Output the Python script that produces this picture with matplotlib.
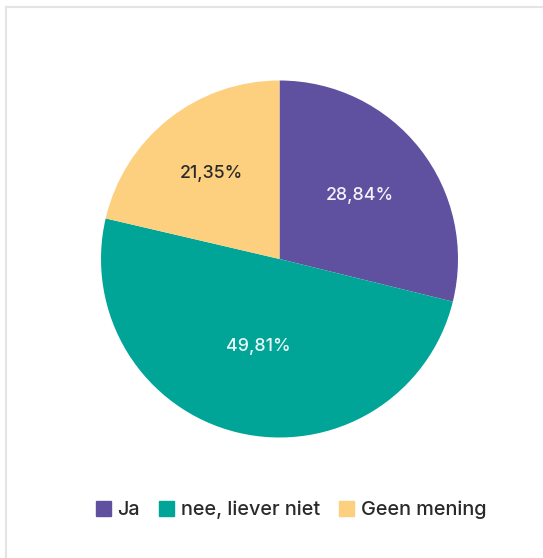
import matplotlib
matplotlib.use("Agg")
import matplotlib.pyplot as plt
from matplotlib.lines import Line2D
import numpy as np

categories = ["Ja", "nee, liever niet", "Geen mening"]
values = [28.84, 49.81, 21.35]
value_labels = ["28,84%", "49,81%", "21,35%"]
colors = ["#5F51A0", "#00A597", "#FCD07F"]
text_colors = ["#F4F2FA", "#EAF7F5", "#2A2A2A"]
label_dist = [0.575, 0.505, 0.61]

plt.rcParams["font.family"] = ["Inter", "DejaVu Sans"]

W, H = 543, 558
fig = plt.figure(figsize=(W / 100, H / 100), dpi=100)
fig.patch.set_facecolor("white")

# faint frame along the top and left edges
fig.add_artist(Line2D([6 / W, 6 / W], [0, 1 - 7 / H], transform=fig.transFigure,
                      color="#E4E4E4", lw=1.5))
fig.add_artist(Line2D([6 / W, 1], [1 - 7 / H, 1 - 7 / H], transform=fig.transFigure,
                      color="#E4E4E4", lw=1.5))

cx, cy, r = 279.5, 259, 178.5
ax = fig.add_axes([(cx - r) / W, (H - cy - r) / H, 2 * r / W, 2 * r / H])
wedges, _ = ax.pie(values, colors=colors, startangle=90, counterclock=False,
                   radius=1.0, wedgeprops=dict(linewidth=0))
ax.set_xlim(-1, 1)
ax.set_ylim(-1, 1)
ax.set_aspect("equal")
ax.axis("off")

for w, lab, tc, d in zip(wedges, value_labels, text_colors, label_dist):
    ang = np.deg2rad((w.theta1 + w.theta2) / 2)
    ax.text(d * np.cos(ang), d * np.sin(ang), lab, ha="center", va="center",
            fontsize=12.8, color=tc, fontweight="medium")

handles = [plt.Rectangle((0, 0), 1, 1, color=c) for c in colors]
fig.legend(handles, categories, loc="center", bbox_to_anchor=(291 / W, 1 - 510 / H),
           ncol=3, frameon=False, handlelength=0.75, handleheight=0.75,
           handletextpad=0.35, columnspacing=0.95, labelcolor="#2A2A2A",
           prop=dict(size=14.3, weight="medium"))

fig.savefig("out.png", dpi=100, facecolor="white")
